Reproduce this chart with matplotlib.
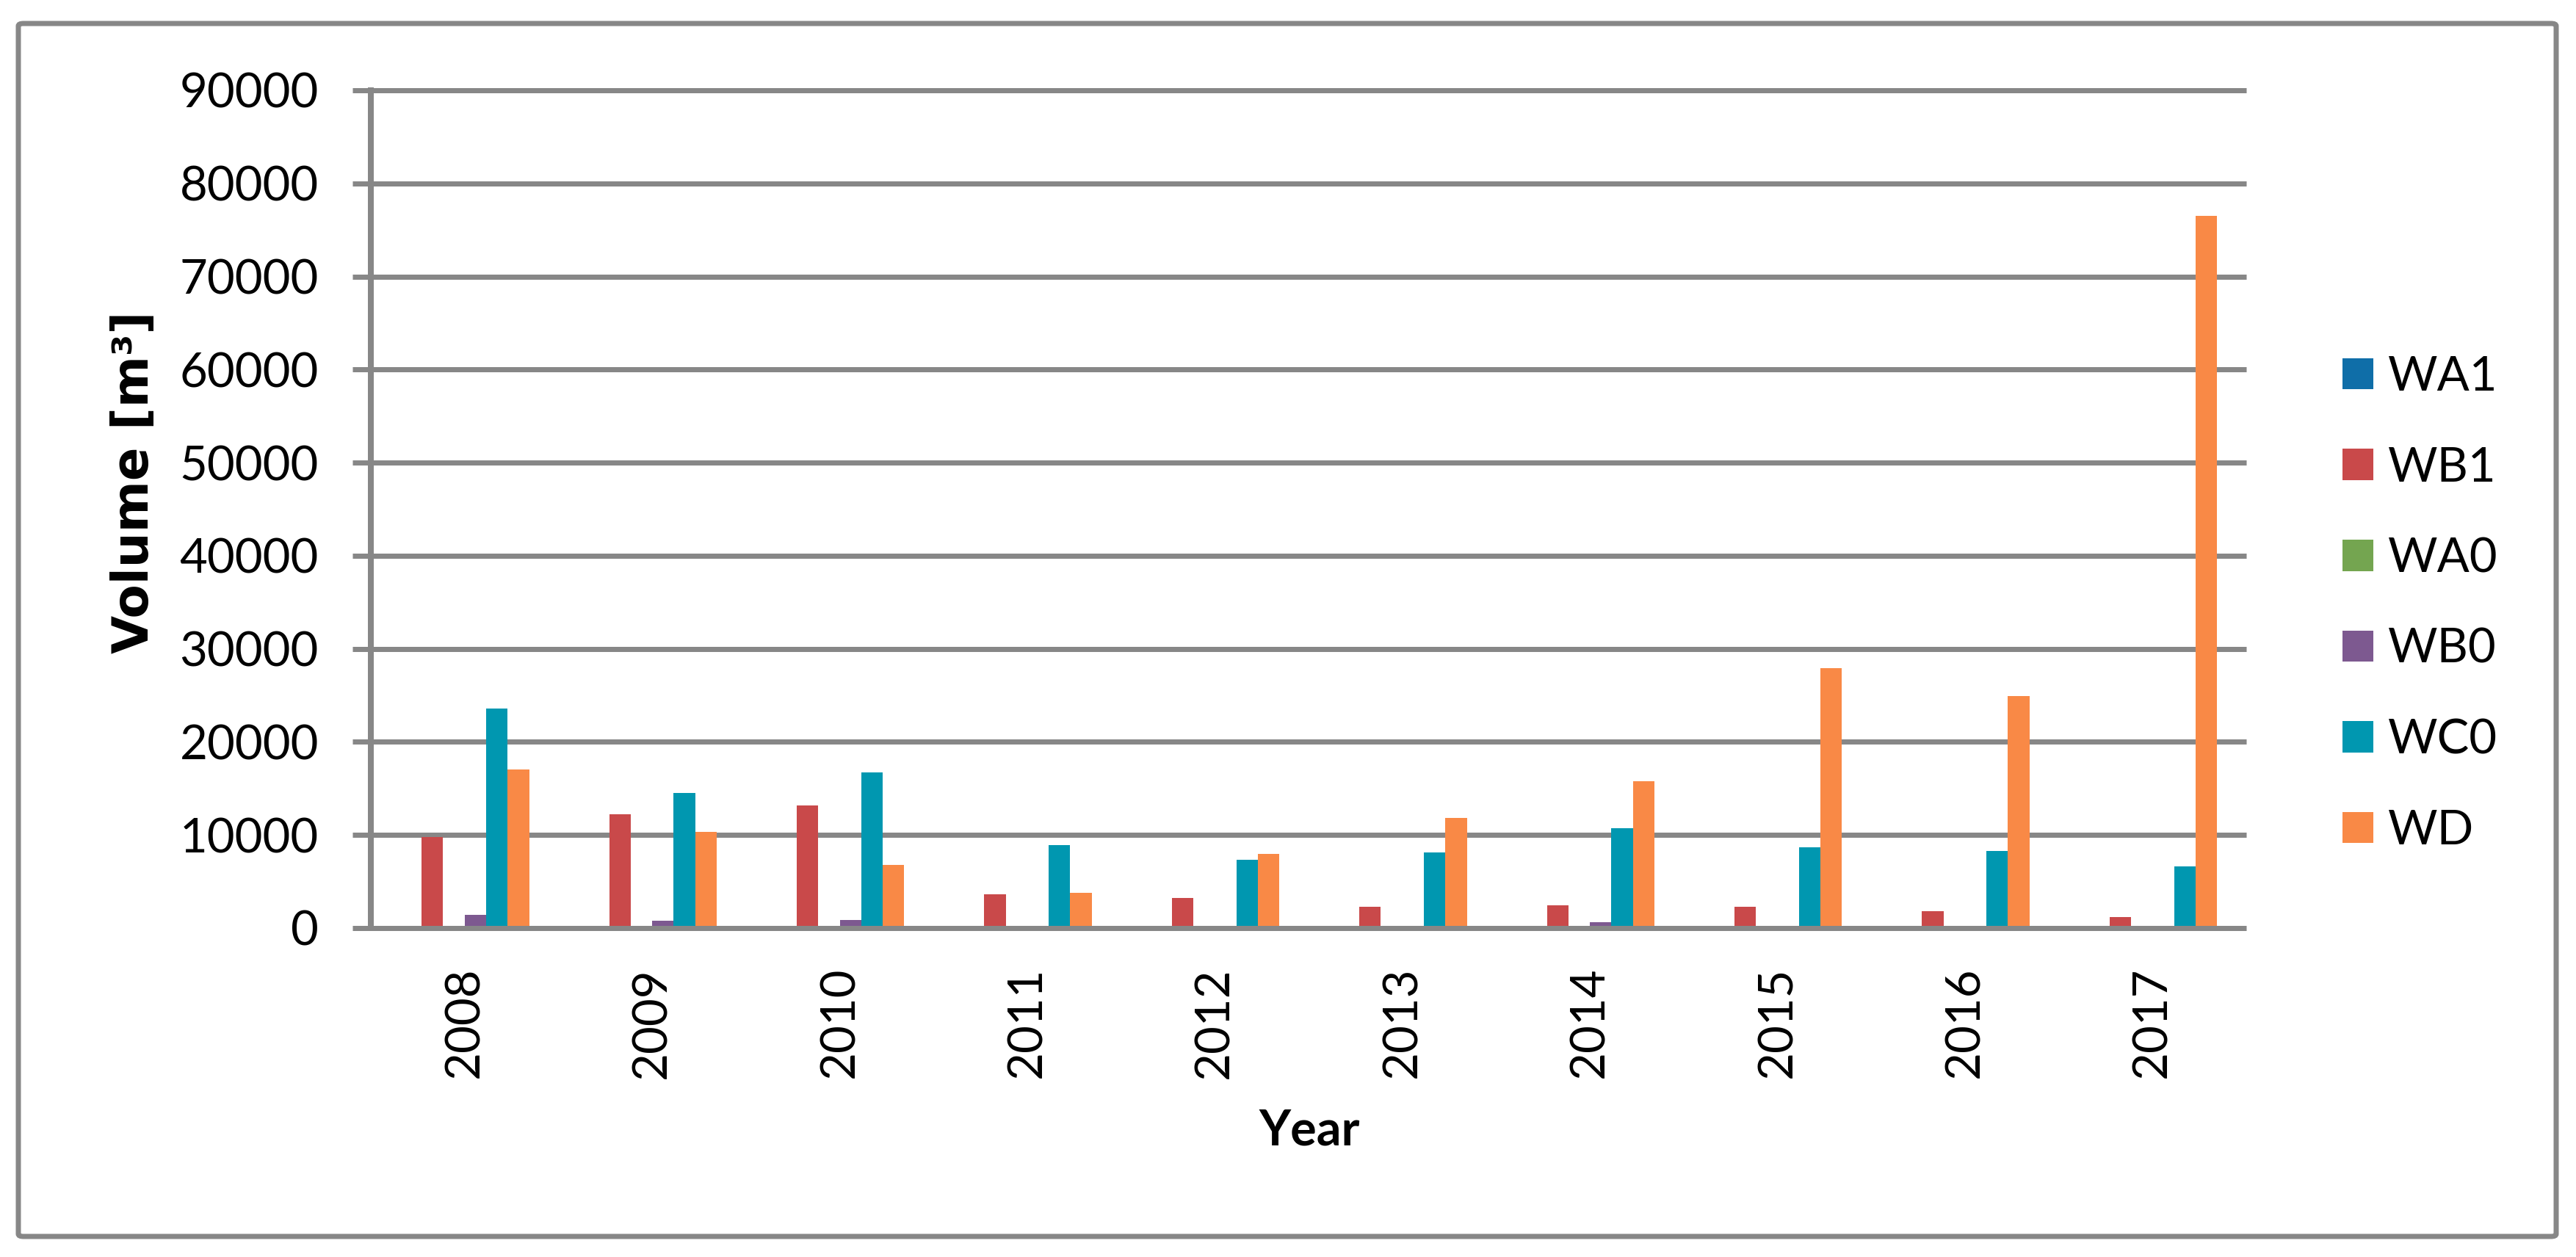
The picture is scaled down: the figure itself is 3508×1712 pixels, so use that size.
import matplotlib
matplotlib.use("Agg")
import matplotlib.pyplot as plt
from matplotlib.patches import FancyBboxPatch
import numpy as np

years = ["2008", "2009", "2010", "2011", "2012", "2013", "2014", "2015", "2016", "2017"]
series_names = ["WA1", "WB1", "WA0", "WB0", "WC0", "WD"]
WA1 = [0, 0, 0, 0, 0, 0, 0, 0, 0, 0]
WB1 = [9750, 12250, 13200, 3650, 3200, 2300, 2450, 2300, 1850, 1150]
WA0 = [0, 0, 0, 0, 0, 0, 0, 0, 0, 0]
WB0 = [1450, 800, 900, 0, 0, 0, 600, 0, 0, 0]
WC0 = [23550, 14550, 16700, 8950, 7350, 8100, 10700, 8700, 8300, 6600]
WD = [17000, 10300, 6750, 3800, 8000, 11800, 15800, 27900, 24900, 76500]
colors = ["#0F6EA8", "#C9494A", "#74A550", "#7D5990", "#0097B0", "#F98946"]
y_ticks = [0, 10000, 20000, 30000, 40000, 50000, 60000, 70000, 80000, 90000]

series = [WA1, WB1, WA0, WB0, WC0, WD]

W, H = 3508, 1712
DPI = 100
plt.rcParams['font.family'] = ['Lato', 'DejaVu Sans']
fig = plt.figure(figsize=(W / DPI, H / DPI), dpi=DPI)
fig.patch.set_facecolor("white")

gray = "#878787"
def px2pt(p):
    return p * 72.0 / DPI

# outer border
border = FancyBboxPatch((25 / W, 1 - 1684 / H), (3481 - 25) / W, (1684 - 32) / H,
                        boxstyle="round,pad=0,rounding_size=0.002",
                        transform=fig.transFigure, fill=False,
                        edgecolor=gray, linewidth=px2pt(7))
fig.patches.append(border)

ax = fig.add_axes([505 / W, 1 - 1264 / H, (3059 - 505) / W, (1264 - 123) / H])
ax.set_facecolor("none")

x = np.arange(len(years))
bw = 0.1147
for j, (name, vals, c) in enumerate(zip(series_names, series, colors)):
    ax.bar(x + (j - 2.5) * bw, vals, width=bw, color=c, label=name,
           zorder=3, linewidth=0)

ax.set_xlim(-0.5, len(years) - 0.5)
ax.set_ylim(0, 90000)

# gridlines
for v in y_ticks:
    ax.axhline(v, color=gray, linewidth=px2pt(7), zorder=4 if v == 0 else 1,
               clip_on=False, solid_capstyle="butt")

for s in ["top", "right", "bottom"]:
    ax.spines[s].set_visible(False)
ax.spines["left"].set_color(gray)
ax.spines["left"].set_linewidth(px2pt(8))
ax.spines["left"].set_zorder(5)

ax.set_yticks(y_ticks)
ax.set_yticklabels([str(v) for v in y_ticks])
ax.tick_params(axis="y", direction="out", length=px2pt(25), width=px2pt(7),
               color=gray, pad=px2pt(46), labelsize=47, labelcolor="black")
ax.set_xticks(x)
ax.set_xticklabels(years, rotation=90)
ax.tick_params(axis="x", length=0, pad=px2pt(53), labelsize=47, labelcolor="black")

fig.text(1783 / W, 1 - 1560 / H, "Year", fontsize=48, fontweight="bold",
         ha="center", va="baseline")
fig.text(202 / W, 1 - 890 / H, "Volume [m³]", fontsize=48.5, fontweight="bold",
         family=["DejaVu Sans"],
         rotation=90, rotation_mode="anchor", ha="left", va="baseline")

fs_px = 47 * DPI / 72.0
leg = ax.legend(loc="center left", bbox_to_anchor=(3190 / W, 1 - 822.5 / H),
                bbox_transform=fig.transFigure, frameon=False, fontsize=47,
                handlelength=42 / fs_px, handleheight=41 / fs_px,
                handletextpad=20 / fs_px, labelspacing=0.99,
                borderpad=0, borderaxespad=0)

fig.savefig("out.png", dpi=DPI, facecolor="white")
